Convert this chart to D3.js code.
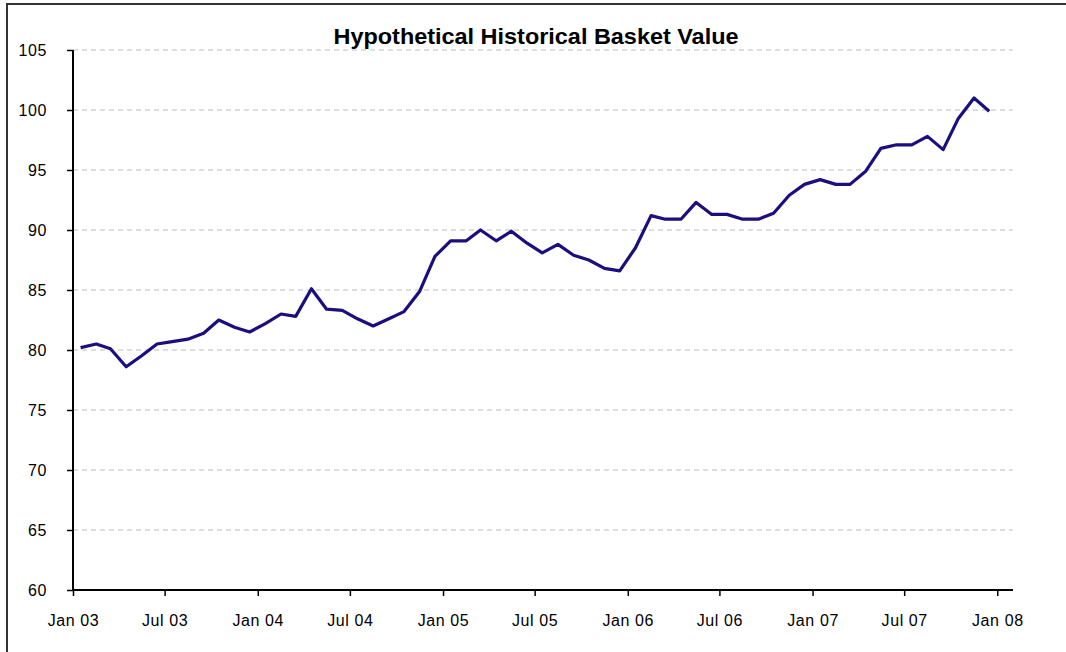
<!DOCTYPE html>
<html>
<head>
<meta charset="utf-8">
<script src="https://cdn.jsdelivr.net/npm/d3@7"></script>
<style>
  body { margin: 0; background: #fff; }
  svg { display: block; }
</style>
</head>
<body>
<div id="chart-area"></div>
<script>
// Datos (un valor por mes, ene 2003 - dic 2007)
const startMonth = new Date(2003, 0, 1);
const basketValues = [
  80.2, 80.5, 80.1, 78.6, 79.5, 80.5, 80.7, 80.9, 81.4, 82.5, 81.9, 81.5,
  82.2, 83.0, 82.8, 85.1, 83.4, 83.3, 82.6, 82.0, 82.6, 83.2, 84.9, 87.8,
  89.1, 89.1, 90.0, 89.1, 89.9, 88.9, 88.1, 88.8, 87.9, 87.5, 86.8, 86.6,
  88.5, 91.2, 90.9, 90.9, 92.3, 91.3, 91.3, 90.9, 90.9, 91.4, 92.9, 93.8,
  94.2, 93.8, 93.8, 94.9, 96.8, 97.1, 97.1, 97.8, 96.7, 99.3, 101.0, 99.9
];
const yTicks = [60, 65, 70, 75, 80, 85, 90, 95, 100, 105];
const xTickLabels = ["Jan 03", "Jul 03", "Jan 04", "Jul 04", "Jan 05", "Jul 05",
                     "Jan 06", "Jul 06", "Jan 07", "Jul 07", "Jan 08"];
const chartTitle = "Hypothetical Historical Basket Value";

const data = basketValues.map((v, i) => ({ date: d3.timeMonth.offset(startMonth, i), value: v }));
const xTickDates = xTickLabels.map((d, i) => d3.timeMonth.offset(startMonth, i * 6));

const width = 1066;
const height = 652;
const margin = { top: 50, right: 53, bottom: 62, left: 73 };
const innerW = width - margin.left - margin.right;
const innerH = height - margin.top - margin.bottom;

const svg = d3.select("#chart-area")
  .append("svg")
  .attr("width", width)
  .attr("height", height);

// Marco exterior
svg.append("path")
  .attr("d", `M7,${height} L7,4 L${width},4`)
  .attr("fill", "none")
  .attr("stroke", "#333")
  .attr("stroke-width", 2);

const g = svg.append("g")
  .attr("transform", `translate(${margin.left}, ${margin.top})`);

// Escalas
const x = d3.scaleTime()
  .domain([startMonth, new Date(2008, 1, 1)])
  .range([0, innerW]);

const y = d3.scaleLinear()
  .domain([60, 105])
  .range([innerH, 0]);

// Los puntos van centrados en cada mes
const halfMonth = d => x(d3.timeDay.offset(d, 15.2));

// Lineas de cuadricula
g.append("g")
  .selectAll("line")
  .data(yTicks.filter(d => d > 60))
  .enter()
  .append("line")
  .attr("x1", 0)
  .attr("x2", innerW)
  .attr("y1", d => y(d))
  .attr("y2", d => y(d))
  .attr("stroke", "#bdbdbd")
  .attr("stroke-width", 1)
  .attr("stroke-dasharray", "5,4");

// Ejes
const leftAxis = d3.axisLeft(y).tickValues(yTicks).tickSize(6).tickPadding(20).tickFormat(d => d);
g.append("g")
  .attr("class", "left axis")
  .call(leftAxis)
  .call(a => a.select(".domain").attr("d", `M0,${innerH}V0`).attr("stroke-width", 2))
  .call(a => a.selectAll("line").attr("stroke-width", 1.5))
  .selectAll("text")
  .attr("font-family", "Liberation Sans, Arial, sans-serif")
  .attr("font-size", "16px")
  .attr("letter-spacing", "0.6px")
  .attr("fill", "#000");

const bottomAxis = d3.axisBottom(x).tickValues(xTickDates).tickSize(6).tickPadding(19)
  .tickFormat((d, i) => xTickLabels[i]);
g.append("g")
  .attr("class", "bottom axis")
  .attr("transform", `translate(0, ${innerH})`)
  .call(bottomAxis)
  .call(a => a.select(".domain").attr("d", `M0,0H${innerW}`).attr("stroke-width", 2))
  .call(a => a.selectAll("line").attr("stroke-width", 1.5))
  .selectAll("text")
  .attr("font-family", "Liberation Sans, Arial, sans-serif")
  .attr("font-size", "16px")
  .attr("letter-spacing", "0.6px")
  .attr("fill", "#000");

// Linea de la serie
const line = d3.line()
  .x(d => halfMonth(d.date))
  .y(d => y(d.value));

g.append("path")
  .datum(data)
  .attr("fill", "none")
  .attr("stroke", "#1b0e7e")
  .attr("stroke-width", 3.2)
  .attr("stroke-linejoin", "round")
  .attr("d", line);

// Titulo
svg.append("text")
  .attr("x", 536)
  .attr("y", 44)
  .attr("text-anchor", "middle")
  .attr("font-family", "Liberation Sans Narrow, Arial Narrow, Liberation Sans, sans-serif")
  .attr("font-weight", "bold")
  .attr("font-size", "22px")
  .attr("textLength", 405)
  .attr("lengthAdjust", "spacingAndGlyphs")
  .attr("fill", "#000")
  .text(chartTitle);
</script>
</body>
</html>
